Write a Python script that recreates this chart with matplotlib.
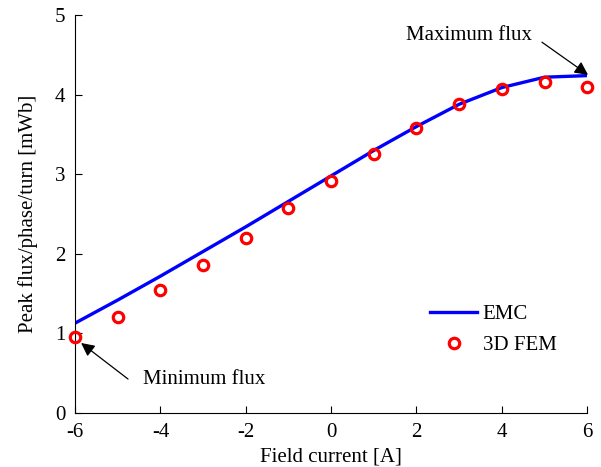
import matplotlib
matplotlib.use("Agg")
import matplotlib.pyplot as plt

x_fem = [-6, -5, -4, -3, -2, -1, 0, 1, 2, 3, 4, 5, 6]
y_fem = [0.955, 1.21, 1.545, 1.86, 2.20, 2.575, 2.915, 3.25, 3.58, 3.88, 4.07, 4.16, 4.095]
x_emc = [-6, -5, -4, -3, -2, -1, 0, 1, 2, 3, 4, 5, 6]
y_emc = [1.13, 1.42, 1.72, 2.03, 2.34, 2.66, 2.98, 3.30, 3.60, 3.88, 4.09, 4.22, 4.24]

plt.rcParams['font.family'] = ['Liberation Serif', 'DejaVu Serif']
FS = 15

fig = plt.figure(figsize=(6.01, 4.67), dpi=100)
ax = fig.add_axes([0.125, 0.1156, 0.852, 0.852])
ax.plot(x_emc, y_emc, color='#0000ff', lw=2.4, label='EMC', zorder=2)
ax.plot(x_fem, y_fem, 'o', ms=7.5, mfc='none', mec='#ff0000', mew=2.3, label='3D FEM',
        zorder=3, clip_on=False)

ax.set_xlim(-6, 6)
ax.set_ylim(0, 5)
ax.set_xticks([-6, -4, -2, 0, 2, 4, 6])
ax.set_yticks([0, 1, 2, 3, 4, 5])
ax.set_xticklabels(['-6', '-4', '-2', '0', '2', '4', '6'])
ax.spines['top'].set_visible(False)
ax.spines['right'].set_visible(False)
ax.tick_params(direction='in', length=5, width=0.8, labelsize=FS)
ax.tick_params(axis='x', pad=7)
ax.tick_params(axis='y', pad=7)
ax.set_xlabel('Field current [A]', fontsize=FS, labelpad=4)
ax.set_ylabel('Peak flux/phase/turn [mWb]', fontsize=FS, labelpad=12)

ax.text(4.71, 4.75, 'Maximum flux', fontsize=FS, ha='right', va='center')
ax.annotate('', xy=(6.02, 4.25), xytext=(4.94, 4.66), annotation_clip=False,
            arrowprops=dict(arrowstyle='-|>', color='black', lw=0.9, mutation_scale=20,
                            shrinkA=0, shrinkB=0))
ax.text(-4.41, 0.427, 'Minimum flux', fontsize=FS, ha='left', va='center')
ax.annotate('', xy=(-5.86, 0.88), xytext=(-4.76, 0.427), annotation_clip=False,
            arrowprops=dict(arrowstyle='-|>', color='black', lw=0.9, mutation_scale=20,
                            shrinkA=0, shrinkB=0))

ax.legend(loc='upper left', bbox_to_anchor=(0.665, 0.31), frameon=False, fontsize=FS,
          handlelength=2.26, handletextpad=0.25, labelspacing=0.55, borderpad=0.2)

fig.savefig('out.png', dpi=100)
